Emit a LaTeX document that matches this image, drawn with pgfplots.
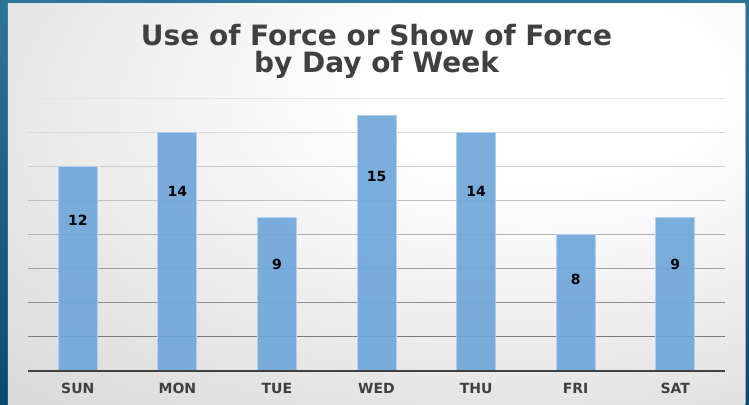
\documentclass[border=0pt]{standalone}
\usepackage{pgfplots}
\pgfplotsset{compat=1.18}
\usepackage{fontspec}
\setmainfont{Liberation Sans}
\newfontfamily\dv{DejaVu Sans}
\usetikzlibrary{backgrounds,calc}
\definecolor{barblue}{HTML}{6FA7DA}
\definecolor{baredge}{HTML}{B0D0EE}
\definecolor{txtgray}{HTML}{404040}
\definecolor{frameA}{HTML}{2C7599}
\definecolor{frameB}{HTML}{0D4A72}
\definecolor{panelgray}{HTML}{C6C6C6}
\pgfdeclareradialshading{panelshade}{\pgfpoint{13bp}{17bp}}{%
  color(0bp)=(white); color(12bp)=(white); color(38bp)=(panelgray!50!white);
  color(65bp)=(panelgray); color(100bp)=(panelgray)}

\begin{document}
\begin{tikzpicture}
\begin{axis}[
  scale only axis, width=697pt, height=273pt,
  xmin=-0.5, xmax=6.5, ymin=0, ymax=16,
  clip=false,
  /pgf/number format/assume math mode=true,
  axis line style={draw=none},
  major tick length=0pt,
  ytick=\empty,
  xtick={0,...,6},
  xticklabels={SUN,MON,TUE,WED,THU,FRI,SAT},
  xticklabel style={anchor=base, yshift=-23pt, text=txtgray,
    font=\dv\bfseries\fontsize{14}{14}\selectfont},
]
\coordinate (O) at (axis description cs:0,0);
\coordinate (T) at (axis description cs:1,1);
% grid lines, lighter towards the top
\draw[black!52, line width=0.8pt] (axis cs:-0.5,2) -- (axis cs:6.5,2);
\draw[black!44, line width=0.8pt] (axis cs:-0.5,4) -- (axis cs:6.5,4);
\draw[black!37, line width=0.8pt] (axis cs:-0.5,6) -- (axis cs:6.5,6);
\draw[black!31, line width=0.8pt] (axis cs:-0.5,8) -- (axis cs:6.5,8);
\draw[black!25, line width=0.8pt] (axis cs:-0.5,10) -- (axis cs:6.5,10);
\draw[black!20, line width=0.8pt] (axis cs:-0.5,12) -- (axis cs:6.5,12);
\draw[black!15, line width=0.8pt] (axis cs:-0.5,14) -- (axis cs:6.5,14);
\draw[black!10, line width=0.8pt] (axis cs:-0.5,16) -- (axis cs:6.5,16);
\addplot[ybar, bar width=39pt, fill=barblue, draw=baredge, line width=0.8pt,
  fill opacity=0.92,
  visualization depends on={y \as \rawy},
  nodes near coords,
  nodes near coords style={anchor=center, text=black, text opacity=1,
    font=\dv\bfseries\fontsize{14}{14}\selectfont,
    shift={(axis direction cs:0,{-0.14*\rawy-1.5})}}]
  coordinates {(0,12) (1,14) (2,9) (3,15) (4,14) (5,8) (6,9)};
\draw[txtgray, line width=2.5pt] (axis cs:-0.5,0) -- (axis cs:6.5,0);
\node[anchor=base, text=txtgray, font=\dv\bfseries\fontsize{28}{28}\selectfont]
  at ([yshift=52pt]axis description cs:0.5,1) {Use of Force or Show of Force};
\node[anchor=base, text=txtgray, font=\dv\bfseries\fontsize{28}{28}\selectfont]
  at ([yshift=25pt]axis description cs:0.5,1) {by Day of Week};
\end{axis}
\begin{pgfonlayer}{background}
  \fill[top color=frameA, bottom color=frameB]
    ($(O)+(-28pt,-33pt)$) rectangle ($(T)+(24pt,98pt)$);
  \fill[black!35] ($(O)+(-19pt,-33pt)$) rectangle ($(T)+(21pt,93pt)$);
  \shade[shading=panelshade] ($(O)+(-20pt,-33pt)$) rectangle ($(T)+(20pt,94pt)$);
\end{pgfonlayer}
\end{tikzpicture}
\end{document}
